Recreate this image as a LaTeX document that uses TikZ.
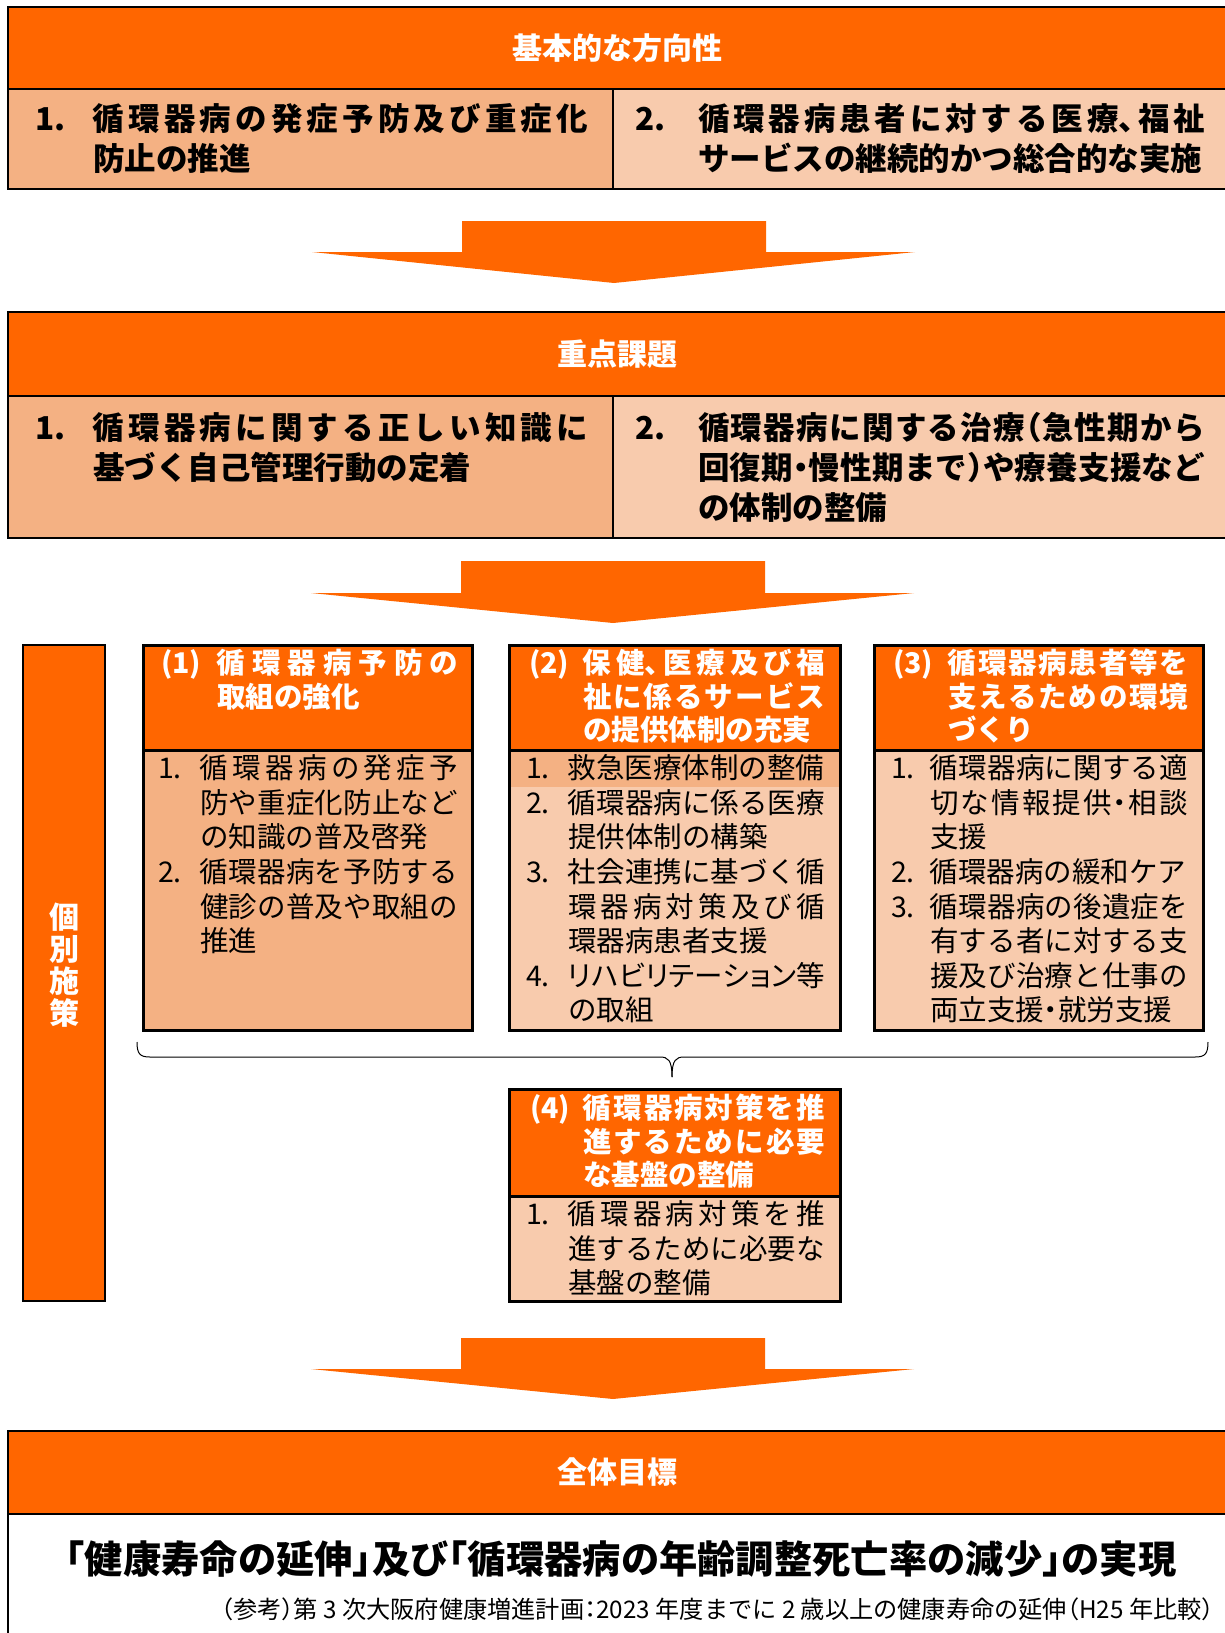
\documentclass[tikz,border=0pt]{standalone}
\usepackage{fontspec}
\setmainfont{Noto Sans CJK JP}[RawFeature=+halt]
\usepackage{tikz}
\usetikzlibrary{positioning}
\XeTeXlinebreaklocale "ja"
\XeTeXlinebreakskip=0pt plus 8pt minus 1pt

\definecolor{hdorange}{HTML}{FF6600}
\definecolor{midorange}{HTML}{F4B183}
\definecolor{paleorange}{HTML}{F8CBAD}

\newcommand{\numitem}[3]{\par\noindent\hangindent=#1\hangafter=1\makebox[#1][l]{#2}#3\par}

\tikzstyle{headbar} = [rectangle, draw=black, line width=1.5pt, fill=hdorange, minimum width=1218pt, text=white, outer sep=0pt, font=\bfseries\fontsize{30}{36}\selectfont]
\tikzstyle{cell} = [rectangle, draw=black, line width=1.5pt, outer sep=0pt, inner sep=0pt]
\tikzstyle{rowtext} = [inner sep=0pt, outer sep=0pt, align=justify, font=\bfseries\fontsize{31.5}{40.3}\selectfont]
\tikzstyle{boxhead} = [rectangle, draw=black, line width=3pt, fill=hdorange, outer sep=0pt, inner sep=0pt]
\tikzstyle{boxbody} = [rectangle, draw=black, line width=3pt, outer sep=0pt, inner sep=0pt]
\tikzstyle{headtext} = [inner sep=0pt, outer sep=0pt, align=justify, text=white, font=\bfseries\fontsize{28.5}{33.5}\selectfont]
\tikzstyle{itemtext} = [inner sep=0pt, outer sep=0pt, align=justify, font=\fontsize{28.5}{34.6}\selectfont]
\tikzstyle{bigarrow} = [fill=hdorange]
\tikzstyle{groupbrace} = [draw=black, line width=1pt]

\begin{document}
\begin{tikzpicture}[x=1pt, y=-1pt]
\useasboundingbox (0,0) rectangle (1224,1633);

% basic direction
\node (hdr1) [headbar, minimum height=82pt] at (617,48) {基本的な方向性};
\node (dirA) [cell, fill=midorange, minimum width=605pt, minimum height=100pt, below right=0pt and 0pt of hdr1.south west] {};
\node (dirB) [cell, fill=paleorange, minimum width=613pt, minimum height=100pt, right=0pt of dirA] {};
\node (dirAtext) [rowtext, text width=553pt, below right=1pt and 27pt of dirA.north west] {\numitem{58pt}{1.}{循環器病の発症予防及び重症化\linebreak 防止の推進}};
\node (dirBtext) [rowtext, text width=570pt, below right=1pt and 22pt of dirB.north west] {\numitem{63pt}{2.}{循環器病患者に対する医療、福祉\linebreak サービスの継続的かつ総合的な実施}};

\fill [bigarrow] (462,221) -- (766,221) -- (766,252) -- (915,252) -- (614,283) -- (312,252) -- (462,252) -- cycle;

% key issues
\node (hdr2) [headbar, minimum height=84pt] at (617,354) {重点課題};
\node (taskA) [cell, fill=midorange, minimum width=605pt, minimum height=142pt, below right=0pt and 0pt of hdr2.south west] {};
\node (taskB) [cell, fill=paleorange, minimum width=613pt, minimum height=142pt, right=0pt of taskA] {};
\node (taskAtext) [rowtext, text width=553pt, below right=3pt and 27pt of taskA.north west] {\numitem{58pt}{1.}{循環器病に関する正しい知識に\linebreak 基づく自己管理行動の定着}};
\node (taskBtext) [rowtext, text width=570pt, below right=3pt and 22pt of taskB.north west] {\numitem{63pt}{2.}{循環器病に関する治療（急性期から\linebreak 回復期・慢性期まで）や療養支援など\linebreak の体制の整備}};

\fill [bigarrow] (461,561) -- (765,561) -- (765,593) -- (914,593) -- (613,623) -- (311,593) -- (461,593) -- cycle;

% individual measures
\node (vbar) [boxbody, line width=2.5pt, fill=hdorange, minimum width=82pt, minimum height=656pt] at (64,973) {};
\node (vbartext) [text=white, align=center, font=\bfseries\fontsize{30}{32}\selectfont] at ([yshift=8pt]vbar.center) {個\\別\\施\\策};

\node (box1h) [boxhead, minimum width=329pt, minimum height=105pt] at (307.5,697.5) {};
\node (box1) [boxbody, fill=midorange, minimum width=329pt, minimum height=280pt, below=0pt of box1h] {};
\node (box2h) [boxhead, minimum width=331pt, minimum height=105pt, right=37pt of box1h] {};
\node (box2) [boxbody, fill=paleorange, minimum width=331pt, minimum height=280pt, below=0pt of box2h] {};
\node (box3h) [boxhead, minimum width=329pt, minimum height=105pt, right=34pt of box2h] {};
\node (box3) [boxbody, fill=paleorange, minimum width=329pt, minimum height=280pt, below=0pt of box3h] {};
\node (band) [fill=midorange, inner sep=0pt, minimum width=328pt, minimum height=35pt, below=1.5pt of box2.north] {};

\node (box1htext) [headtext, text width=297pt, below right=-5pt and 18pt of box1h.north west] {\numitem{56pt}{(1)}{循環器病予防の\linebreak 取組の強化}};
\node (box2htext) [headtext, text width=296pt, below right=-5pt and 20pt of box2h.north west] {\numitem{54pt}{(2)}{保健、医療及び福\linebreak 祉に係るサービス\linebreak の提供体制の充実}};
\node (box3htext) [headtext, text width=295pt, below right=-5pt and 19pt of box3h.north west] {\numitem{55pt}{(3)}{循環器病患者等を\linebreak 支えるための環境\linebreak づくり}};

\node (box1text) [itemtext, text width=300pt, below right=-6pt and 15pt of box1.north west] {\numitem{42pt}{1.}{循環器病の発症予\linebreak 防や重症化防止など\linebreak の知識の普及啓発}\numitem{42pt}{2.}{循環器病を予防する\linebreak 健診の普及や取組の\linebreak 推進}};
\node (box2text) [itemtext, text width=299pt, below right=-6pt and 17pt of box2.north west] {\numitem{42pt}{1.}{救急医療体制の整備}\numitem{42pt}{2.}{循環器病に係る医療\linebreak 提供体制の構築}\numitem{42pt}{3.}{社会連携に基づく循\linebreak 環器病対策及び循\linebreak 環器病患者支援}\numitem{42pt}{4.}{{\addfontfeature{RawFeature=+palt}リハビリテーション}等\linebreak の取組}};
\node (box3text) [itemtext, text width=297pt, below right=-6pt and 17pt of box3.north west] {\numitem{39pt}{1.}{循環器病に関する適\linebreak 切な情報提供・相談\linebreak 支援}\numitem{39pt}{2.}{循環器病の緩和ケア}\numitem{39pt}{3.}{循環器病の後遺症を\linebreak 有する者に対する支\linebreak 援及び治療と仕事の\linebreak 両立支援・就労支援}};

% brace over the three boxes
\coordinate (braceL) at (137,1042);
\coordinate (braceR) at (1208,1042);
\coordinate (braceM) at (672,1077);
\draw [groupbrace] (braceL) .. controls (137,1054) and (140,1057) .. (150,1057) -- (660,1057) .. controls (668,1057) and (672,1060) .. (braceM);
\draw [groupbrace] (braceR) .. controls (1208,1054) and (1205,1057) .. (1195,1057) -- (684,1057) .. controls (676,1057) and (672,1060) .. (braceM);

\node (box4h) [boxhead, minimum width=331pt, minimum height=107pt] at (674.5,1142.5) {};
\node (box4) [boxbody, fill=paleorange, minimum width=331pt, minimum height=105pt, below=0pt of box4h] {};
\node (box4htext) [headtext, text width=295pt, below right=-4pt and 21pt of box4h.north west] {\numitem{53pt}{(4)}{循環器病対策を推\linebreak 進するために必要\linebreak な基盤の整備}};
\node (box4text) [itemtext, text width=299pt, below right=-6pt and 17pt of box4.north west] {\numitem{42pt}{1.}{循環器病対策を推\linebreak 進するために必要な\linebreak 基盤の整備}};

\fill [bigarrow] (461,1338) -- (765,1338) -- (765,1369) -- (914,1369) -- (613,1399) -- (311,1369) -- (461,1369) -- cycle;

% overall goal
\node (hdr4) [headbar, minimum height=83pt] at (617,1472.5) {全体目標};
\node (goal) [cell, fill=white, minimum width=1218pt, minimum height=140pt, below=0pt of hdr4] {};
\node (goaltext) [font=\bfseries\fontsize{38.3}{44}\selectfont] at (621,1559) {「健康寿命の延伸」及び「循環器病の年齢調整死亡率の減少」の実現};
\node (note) [anchor=east, inner sep=0pt, font=\fontsize{24.2}{30}\selectfont] at (1214,1609) {（参考）第 3 次大阪府健康増進計画：2023 年度までに 2 歳以上の健康寿命の延伸（H25 年比較）};

\end{tikzpicture}
\end{document}
